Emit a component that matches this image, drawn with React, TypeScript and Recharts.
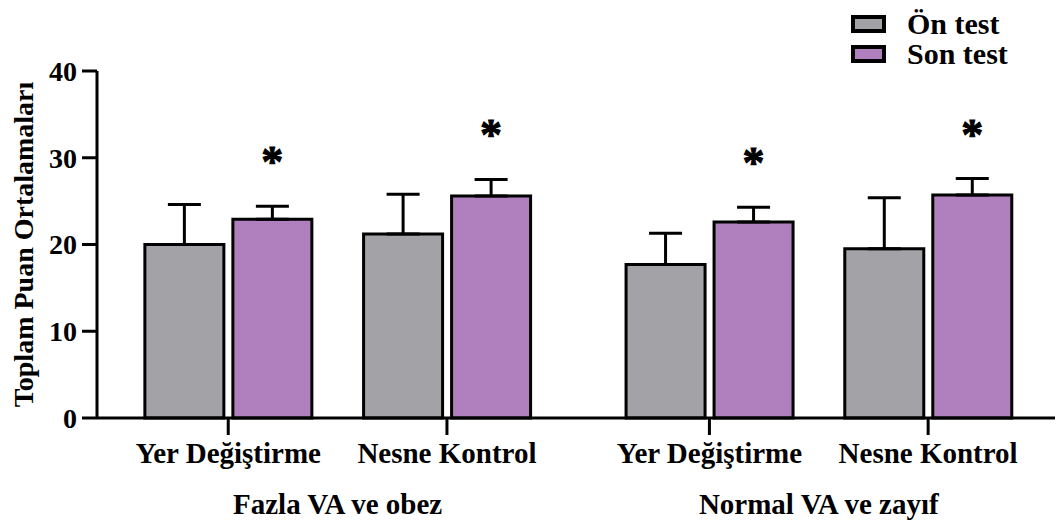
import React from "react";
import { BarChart, Bar, XAxis, YAxis, ErrorBar, LabelList, Legend, Label } from "recharts";

const SERIF = '"Liberation Serif", "Times New Roman", serif';

// chart values
const categories = ["Yer Değiştirme", "Nesne Kontrol", "Yer Değiştirme", "Nesne Kontrol"];
const groupOf = [0, 0, 1, 1];
const groups = ["Fazla VA ve obez", "Normal VA ve zayıf"];
const onTest = [20.0, 21.2, 17.7, 19.5];
const onTestSd = [4.6, 4.6, 3.6, 5.9];
const sonTest = [22.9, 25.6, 22.6, 25.7];
const sonTestSd = [1.5, 1.9, 1.7, 1.9];
const significant = [true, true, true, true];
const yTicks = [0, 10, 20, 30, 40];
const seriesOrder = ["Ön test", "Son test"];

// extra space between the two groups, in category units
const GROUP_GAP = 0.2;

const data = categories.map((name, i) => ({
  x: i + 1 + groupOf[i] * GROUP_GAP,
  name,
  on: onTest[i],
  onErr: [0, onTestSd[i]],
  son: sonTest[i],
  sonErr: [0, sonTestSd[i]],
  sonCap: sonTestSd[i],
  sig: significant[i] ? "*" : "",
}));

const catTicks = data.map((d) => d.x);
const groupTicks = groups.map((_, g) => {
  const xs = data.filter((_, i) => groupOf[i] === g).map((d) => d.x);
  return xs.reduce((a, b) => a + b, 0) / xs.length;
});

const catLabel = (v: number) => data.find((d) => Math.abs(d.x - v) < 1e-6)?.name ?? "";
const groupLabel = (v: number) => groups[groupTicks.findIndex((t) => Math.abs(t - v) < 1e-6)] ?? "";

const tickStyle = { fill: "#000", fontSize: 28, fontWeight: 700, fontFamily: SERIF };
const axisStroke = { stroke: "#000", strokeWidth: 3 };

function Star(props: any) {
  const { x, y, width, value } = props;
  if (!value) return null;
  return (
    <text
      x={x + width / 2}
      y={y - 30}
      textAnchor="middle"
      fontSize={44}
      fontWeight={700}
      fontFamily={SERIF}
      fill="#000"
      stroke="#000"
      strokeWidth={1}
    >
      {value}
    </text>
  );
}

function LegendBox({ payload }: any) {
  const items = (payload || [])
    .filter((p: any) => p.type !== "none")
    .sort((a: any, b: any) => seriesOrder.indexOf(a.value) - seriesOrder.indexOf(b.value));
  return (
    <div>
      {items.map((p: any) => (
        <div key={p.value} style={{ display: "flex", alignItems: "center", height: 30 }}>
          <span
            style={{
              display: "inline-block",
              width: 27,
              height: 10,
              border: "4px solid #000",
              background: p.color,
              marginRight: 21,
            }}
          />
          <span style={{ fontSize: 30, fontWeight: 700, fontFamily: SERIF, color: "#000" }}>
            {p.value}
          </span>
        </div>
      ))}
    </div>
  );
}

export default function App() {
  return (
    <div style={{ position: "fixed", left: 0, top: 0, width: 1059, height: 523, background: "#fff" }}>
      <BarChart
        width={1059}
        height={523}
        data={data}
        margin={{ top: 71, right: 4, bottom: 0, left: 0 }}
        barGap={9}
      >
        <YAxis
          width={97}
          domain={[0, 40]}
          ticks={yTicks}
          interval={0}
          tickSize={15}
          tickMargin={5}
          tick={tickStyle}
          axisLine={axisStroke}
          tickLine={axisStroke}
        >
          <Label
            value="Toplam Puan Ortalamaları"
            angle={-90}
            position="insideLeft"
            offset={23}
            style={{ textAnchor: "middle", fontSize: 28, fontWeight: 700, fontFamily: SERIF, fill: "#000" }}
          />
        </YAxis>
        <XAxis
          xAxisId="cat"
          type="number"
          dataKey="x"
          domain={[0.4, 4.78]}
          allowDataOverflow
          ticks={catTicks}
          interval={0}
          tickFormatter={catLabel}
          tickSize={17}
          tickMargin={7}
          height={55}
          tick={{ ...tickStyle, fontSize: 29 }}
          axisLine={axisStroke}
          tickLine={axisStroke}
        />
        <XAxis
          xAxisId="grp"
          type="number"
          dataKey="x"
          domain={[0.4, 4.78]}
          allowDataOverflow
          ticks={groupTicks}
          interval={0}
          tickFormatter={groupLabel}
          tickSize={0}
          tickMargin={20}
          height={50}
          tick={{ ...tickStyle, fontSize: 29 }}
          axisLine={false}
          tickLine={false}
        />
        <Legend
          layout="vertical"
          align="center"
          verticalAlign="middle"
          wrapperStyle={{ top: 9, left: 851, width: 200 }}
          content={<LegendBox />}
        />
        <Bar
          xAxisId="cat"
          dataKey="on"
          name="Ön test"
          stackId="on"
          fill="#A3A2A7"
          stroke="#000"
          strokeWidth={3}
          barSize={79}
          isAnimationActive={false}
        >
          <ErrorBar dataKey="onErr" direction="y" width={16.5} stroke="#000" strokeWidth={3} />
        </Bar>
        <Bar
          xAxisId="cat"
          dataKey="son"
          name="Son test"
          stackId="son"
          fill="#B07FBE"
          stroke="#000"
          strokeWidth={3}
          barSize={79}
          isAnimationActive={false}
        >
          <ErrorBar dataKey="sonErr" direction="y" width={16.5} stroke="#000" strokeWidth={3} />
        </Bar>
        <Bar
          xAxisId="cat"
          dataKey="sonCap"
          stackId="son"
          fill="transparent"
          stroke="none"
          barSize={79}
          legendType="none"
          isAnimationActive={false}
        >
          <LabelList dataKey="sig" content={<Star />} />
        </Bar>
      </BarChart>
    </div>
  );
}
